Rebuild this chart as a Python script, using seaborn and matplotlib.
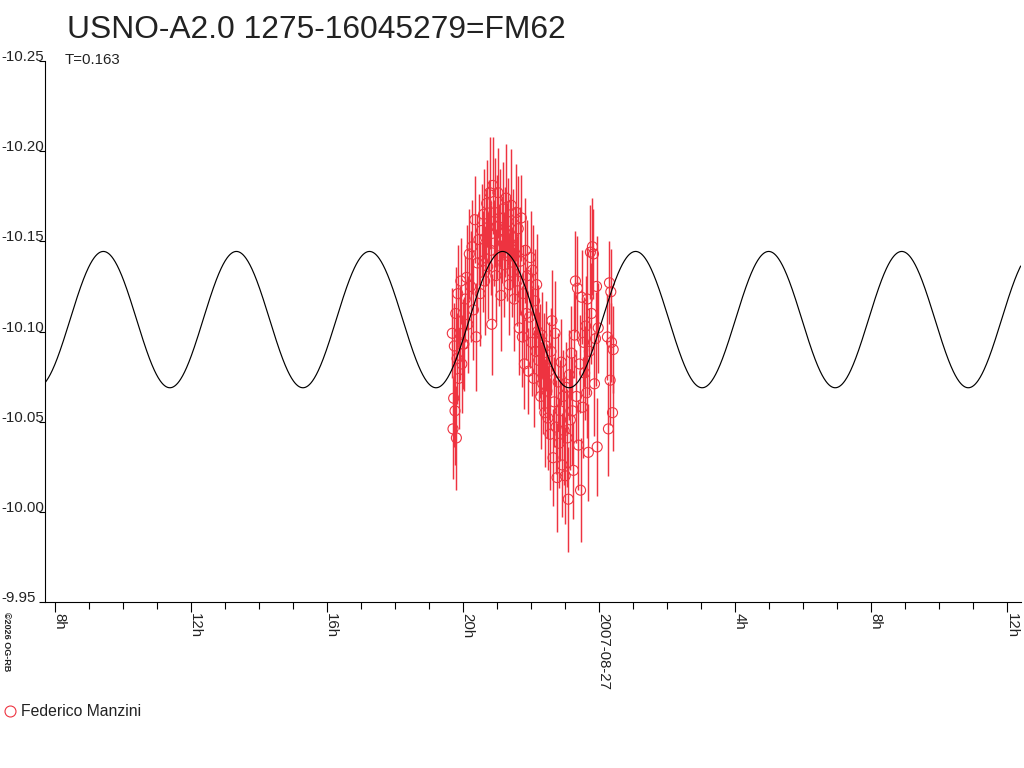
import numpy as np
import pandas as pd
import matplotlib
matplotlib.use("Agg")
import matplotlib.pyplot as plt
import seaborn as sns
from matplotlib.ticker import FixedLocator, MultipleLocator
from matplotlib.lines import Line2D

# ---------------- data ----------------
TITLE = "USNO-A2.0 1275-16045279=FM62"
PERIOD_LABEL = "T=0.163"
OBSERVER = "Federico Manzini"
COPYRIGHT = "\u00a92026 OG-RB"

# observation time in hours from 2007-08-26 00:00
hours = [
    19.68, 19.70, 19.72, 19.74, 19.76, 19.78, 19.80, 19.82, 19.84, 19.87, 19.90, 19.93, 19.96, 19.99,
    20.02, 20.06, 20.10, 20.14, 20.18, 20.22, 20.26, 20.30, 20.34, 20.38, 20.42, 20.46, 20.50, 20.54,
    20.57, 20.60, 20.63, 20.66, 20.69, 20.72, 20.75, 20.78, 20.81, 20.84, 20.87, 20.90, 20.93, 20.96, 20.99, 21.02, 21.05,
    21.08, 21.11, 21.14, 21.17, 21.20, 21.23, 21.26, 21.29, 21.32, 21.35, 21.38, 21.41, 21.44, 21.47, 21.50, 21.53,
    21.56, 21.59, 21.62, 21.65, 21.68, 21.71, 21.74, 21.77, 21.80, 21.83, 21.86, 21.89, 21.92, 21.95, 21.98, 22.01,
    22.04, 22.07, 22.10, 22.13, 22.16, 22.19, 22.22,
    22.25, 22.28, 22.31, 22.34, 22.37, 22.40, 22.43, 22.46, 22.49, 22.52, 22.55, 22.58, 22.61, 22.64, 22.67, 22.70,
    22.73, 22.76, 22.79, 22.82, 22.85, 22.88, 22.91, 22.94, 22.97, 23.00, 23.03,
    23.06, 23.09, 23.12, 23.15, 23.18, 23.21, 23.24, 23.27, 23.30, 23.33, 23.36, 23.39, 23.42, 23.45, 23.48, 23.51, 23.54,
    23.57, 23.60, 23.63, 23.65, 23.68, 23.71, 23.74, 23.77, 23.80, 23.83, 23.86, 23.89, 23.92, 23.94, 23.97,
    24.24, 24.27, 24.30, 24.32, 24.34, 24.36, 24.39, 24.41,
]
mags = [
    -10.099, -10.046, -10.063, -10.092, -10.056, -10.110, -10.041, -10.085, -10.121, -10.074, -10.099, -10.128, -10.082, -10.093,
    -10.093, -10.118, -10.130, -10.104, -10.143, -10.125, -10.147, -10.112, -10.162, -10.097, -10.138, -10.151, -10.121, -10.156,
    -10.139, -10.165, -10.128, -10.152, -10.171, -10.136, -10.158, -10.177, -10.145, -10.104, -10.181, -10.149, -10.166, -10.131, -10.158, -10.177, -10.142,
    -10.163, -10.120, -10.151, -10.168, -10.137, -10.155, -10.174, -10.144, -10.161, -10.126, -10.149, -10.170, -10.133, -10.152, -10.118, -10.143,
    -10.166, -10.128, -10.157, -10.102, -10.139, -10.163, -10.097, -10.121, -10.082, -10.145, -10.110, -10.131, -10.078, -10.108, -10.141, -10.094,
    -10.134, -10.074, -10.117, -10.089, -10.126, -10.100, -10.084,
    -10.089, -10.064, -10.098, -10.071, -10.083, -10.055, -10.092, -10.067, -10.052, -10.078, -10.043, -10.089, -10.106, -10.030, -10.061, -10.099,
    -10.047, -10.019, -10.072, -10.038, -10.056, -10.083, -10.026, -10.064, -10.045, -10.020, -10.069,
    -10.041, -10.007, -10.076, -10.051, -10.088, -10.056, -10.023, -10.098, -10.128, -10.064, -10.124, -10.037, -10.082, -10.012, -10.119, -10.058, -10.094,
    -10.077, -10.103, -10.066, -10.118, -10.033, -10.089, -10.144, -10.110, -10.147, -10.143, -10.071, -10.096, -10.125, -10.036, -10.102,
    -10.097, -10.046, -10.127, -10.073, -10.122, -10.094, -10.055, -10.090,
]
errs = [
    0.025, 0.028, 0.027, 0.024, 0.030, 0.026, 0.029, 0.025, 0.027, 0.028, 0.026, 0.024, 0.027, 0.025,
    0.026, 0.024, 0.029, 0.027, 0.025, 0.031, 0.026, 0.028, 0.024, 0.030, 0.027, 0.025, 0.029, 0.026,
    0.028, 0.025, 0.030, 0.027, 0.024, 0.029, 0.026, 0.031, 0.025, 0.028, 0.027, 0.024, 0.030, 0.026, 0.029, 0.025, 0.028,
    0.027, 0.031, 0.024, 0.026, 0.029, 0.025, 0.030, 0.027, 0.024, 0.028, 0.026, 0.031, 0.025, 0.027, 0.029, 0.026,
    0.027, 0.025, 0.029, 0.026, 0.030, 0.024, 0.028, 0.027, 0.025, 0.029, 0.026, 0.031, 0.024, 0.028, 0.026, 0.030,
    0.025, 0.027, 0.029, 0.024, 0.028, 0.026, 0.027,
    0.026, 0.029, 0.024, 0.028, 0.027, 0.030, 0.025, 0.026, 0.029, 0.027, 0.031, 0.024, 0.028, 0.027, 0.025, 0.029,
    0.026, 0.030, 0.027, 0.025, 0.028, 0.024, 0.029, 0.026, 0.030, 0.027, 0.025,
    0.027, 0.029, 0.025, 0.028, 0.026, 0.030, 0.027, 0.024, 0.028, 0.026, 0.029, 0.025, 0.027, 0.029, 0.026, 0.028, 0.025,
    0.026, 0.028, 0.025, 0.029, 0.027, 0.024, 0.026, 0.028, 0.027, 0.025, 0.029, 0.026, 0.028, 0.027, 0.025,
    0.024, 0.026, 0.023, 0.025, 0.024, 0.022, 0.021, 0.024,
]

# fitted sine model (period T = 0.163 d)
period_hours = 0.163 * 24.0
model_mean = -10.1066
model_amp = 0.0378
model_peak_hour = 9.421

x_ticks = [8, 12, 16, 20, 24, 28, 32, 36]
x_labels = ["8h", "12h", "16h", "20h", "2007-08-27", "4h", "8h", "12h"]
y_ticks = [-10.25, -10.20, -10.15, -10.10, -10.05, -10.00, -9.95]
y_labels = ["-10.25", "-10.20", "-10.15", "-10.10", "-10.05", "-10.00", "-9.95"]
x_range = (7.706, 36.39)
y_range = (-9.95, -10.25)

RED = "#ee3340"

# ---------------- plot ----------------
sns.set_theme(style="white")
plt.rcParams["font.family"] = ["Liberation Sans", "DejaVu Sans"]

fig = plt.figure(figsize=(10.24, 7.68), dpi=100)
W, H = 1024.0, 768.0
ax = fig.add_axes([45 / W, 1 - 602 / H, (1020.7 - 45) / W, (602 - 61) / H])

n = min(len(hours), len(mags), len(errs))
df = pd.DataFrame({"hours": hours[:n], "mag": mags[:n], "err": errs[:n]})

t = np.linspace(x_range[0], x_range[1], 2000)
curve = pd.DataFrame({
    "hours": t,
    "mag": model_mean - model_amp * np.cos(2 * np.pi * (t - model_peak_hour) / period_hours),
})

ax.errorbar(df["hours"], df["mag"], yerr=df["err"], fmt="none", ecolor=RED,
            elinewidth=1.05, capsize=0, zorder=2)
sns.scatterplot(data=df, x="hours", y="mag", marker="o", s=52,
                facecolors="none", edgecolors=RED, linewidths=0.8, ax=ax, zorder=3)
sns.lineplot(data=curve, x="hours", y="mag", color="black", linewidth=0.85,
             ax=ax, zorder=4, sort=False)

ax.set_xlim(*x_range)
ax.set_ylim(*y_range)
ax.set_xlabel("")
ax.set_ylabel("")
ax.grid(False)

for s in ["top", "right"]:
    ax.spines[s].set_visible(False)
for s in ["left", "bottom"]:
    ax.spines[s].set_color("black")
    ax.spines[s].set_linewidth(0.8)

ax.xaxis.set_major_locator(FixedLocator(x_ticks))
ax.set_xticklabels(x_labels)
ax.xaxis.set_minor_locator(MultipleLocator(1))
ax.yaxis.set_major_locator(FixedLocator(y_ticks))
ax.set_yticklabels(y_labels)

ax.tick_params(axis="x", which="major", bottom=True, direction="out", length=7.5,
               width=0.8, color="black", pad=0.4, labelsize=10.8, labelcolor="#222222")
ax.tick_params(axis="x", which="minor", bottom=True, direction="out", length=5,
               width=0.8, color="black")
ax.tick_params(axis="y", which="major", left=True, direction="out", length=4.3,
               width=0.8, color="black", pad=27.4, labelsize=10.8, labelcolor="#222222")

for lab in ax.get_xticklabels():
    lab.set_rotation(-90)
    lab.set_rotation_mode("anchor")
    lab.set_ha("left")
    lab.set_va("baseline")
for lab in ax.get_yticklabels():
    lab.set_ha("left")
    lab.set_va("baseline")

fig.text(67 / W, 1 - 38 / H, TITLE, fontsize=22.9, ha="left", va="baseline", color="#222222")
fig.text(65 / W, 1 - 64 / H, PERIOD_LABEL, fontsize=10.8, ha="left", va="baseline", color="#222222")
fig.text(6 / W, 1 - 612 / H, COPYRIGHT, fontsize=6.5, rotation=-90, ha="center", va="top",
         fontweight="bold", color="#222222")

handle = Line2D([], [], marker="o", linestyle="none", markerfacecolor="none",
                markeredgecolor=RED, markersize=7.9, markeredgewidth=0.8)
fig.legend(handles=[handle], labels=[OBSERVER], loc="center left",
           bbox_to_anchor=(3.7 / W, 1 - 712 / H), frameon=False, fontsize=11.3,
           handlelength=0.8, handletextpad=0.3, borderpad=0, borderaxespad=0,
           labelcolor="#222222")

fig.savefig("out.png", dpi=100, facecolor="white")
